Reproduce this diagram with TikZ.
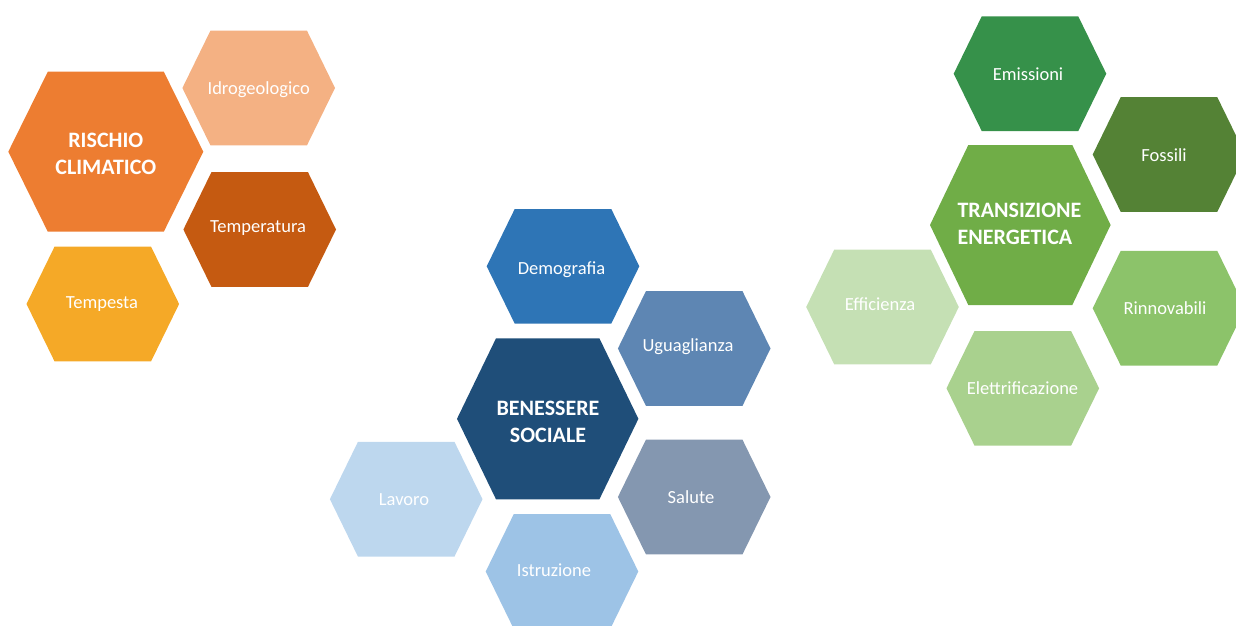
\documentclass[tikz,border=0pt]{standalone}
\usepackage{fontspec}
\setmainfont{Carlito}
\usetikzlibrary{calc}
\definecolor{cRischio}{HTML}{ED7D31}
\definecolor{cIdro}{HTML}{F4B183}
\definecolor{cTemp}{HTML}{C55A11}
\definecolor{cTempesta}{HTML}{F5A927}
\definecolor{cBen}{HTML}{1F4E79}
\definecolor{cDemo}{HTML}{2E75B6}
\definecolor{cUgu}{HTML}{5E86B3}
\definecolor{cSal}{HTML}{8497B0}
\definecolor{cLav}{HTML}{BDD7EE}
\definecolor{cIstr}{HTML}{9DC3E6}
\definecolor{cTrans}{HTML}{70AD47}
\definecolor{cEmi}{HTML}{36914A}
\definecolor{cFos}{HTML}{548235}
\definecolor{cRinn}{HTML}{8CC36A}
\definecolor{cElet}{HTML}{A9D18E}
\definecolor{cEff}{HTML}{C5E0B4}
\tikzset{
  lbl/.style={text=white, inner sep=0pt, font=\fontsize{18.5}{22}\selectfont, text height=12pt, text depth=0pt},
  bigl/.style={text=white, inner sep=0pt, font=\fontsize{22}{26.3}\selectfont\bfseries},
}
% cx, cy, half-width, half-height, half-top, colour
\newcommand{\hexa}[6]{%
  \begin{scope}[shift={(#1,#2)}]
    \fill[#6] (-#3,0) -- (-#5,#4) -- (#5,#4) -- (#3,0) -- (#5,-#4) -- (-#5,-#4) -- cycle;
  \end{scope}}
\begin{document}
\begin{tikzpicture}[x=1pt,y=-1pt]
\useasboundingbox (0,0) rectangle (1236,625);
\clip (0,0) rectangle (1236,625);
% Rischio climatico
\hexa{105.8}{151.7}{97.5}{80}{58}{cRischio}
\node[bigl, align=center] (rischio) at (105.8,154) {RISCHIO\\CLIMATICO};
\hexa{258.7}{88}{76.3}{57.3}{48.3}{cIdro}
\node[lbl] (idro) at (258.7,88) {Idrogeologico};
\hexa{259.7}{229.5}{76.3}{57.3}{48.3}{cTemp}
\node[lbl] (temp) at (258,226) {Temperatura};
\hexa{102.8}{304}{76.3}{57.3}{48.3}{cTempesta}
\node[lbl] (tempesta) at (102,302) {Tempesta};
% Benessere sociale
\hexa{563}{266.3}{76.3}{57.3}{48.3}{cDemo}
\node[lbl] (demo) at (561.5,268) {Demografia};
\hexa{694.2}{348.5}{76.3}{57.3}{48.3}{cUgu}
\node[lbl] (ugu) at (688,345) {Uguaglianza};
\hexa{547.7}{418.8}{90.7}{80.5}{51.7}{cBen}
\node[bigl, align=center] (ben) at (548,422) {BENESSERE\\SOCIALE};
\hexa{406.2}{499.2}{76.3}{57.3}{48.3}{cLav}
\node[lbl] (lav) at (404,499) {Lavoro};
\hexa{694.2}{497}{76.3}{57.3}{48.3}{cSal}
\node[lbl] (sal) at (691,497) {Salute};
\hexa{562}{571.5}{76.3}{57.3}{48.3}{cIstr}
\node[lbl] (istr) at (554,570) {Istruzione};
% Transizione energetica
\hexa{1030}{73.7}{76.3}{57.3}{48.3}{cEmi}
\node[lbl] (emi) at (1028,74) {Emissioni};
\hexa{1169}{154.5}{76.3}{57.3}{48.3}{cFos}
\node[lbl] (fos) at (1164,155) {Fossili};
\hexa{1020.3}{225}{90.3}{80}{52}{cTrans}
\node[bigl, align=left] (trans) at (1019.5,224) {TRANSIZIONE\\ENERGETICA};
\hexa{882.5}{307}{76.3}{57.3}{48.3}{cEff}
\node[lbl] (eff) at (880,304) {Efficienza};
\hexa{1169}{308.2}{76.3}{57.3}{48.3}{cRinn}
\node[lbl] (rinn) at (1165,308) {Rinnovabili};
\hexa{1022.8}{388.3}{76.3}{57.3}{48.3}{cElet}
\node[lbl] (elet) at (1022.5,388) {Elettrificazione};
\end{tikzpicture}
\end{document}
